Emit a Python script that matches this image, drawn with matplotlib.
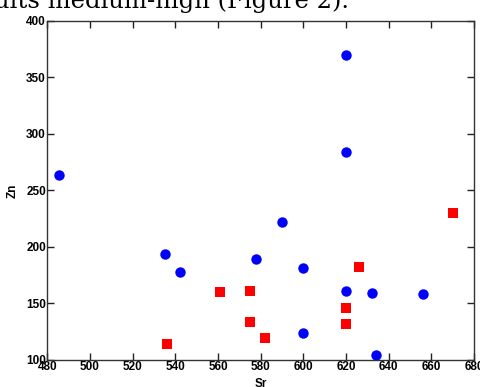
import matplotlib
matplotlib.use("Agg")
import matplotlib.pyplot as plt
from matplotlib import font_manager

# Sr / Zn values
blue_sr = [485.6, 535, 542, 578, 590, 600, 600, 620, 620, 620, 632, 656, 634]
blue_zn = [264, 194, 178, 189, 222, 181.5, 124, 370, 284, 161, 159, 158, 104]
red_sr = [536, 561, 575, 575, 582, 620, 620, 626, 670]
red_zn = [114, 160, 161, 134, 119, 146, 132, 182, 230]

xticks = list(range(480, 681, 20))
yticks = list(range(100, 401, 50))

names = {f.name for f in font_manager.fontManager.ttflist}
tick_font = "Liberation Sans Narrow" if "Liberation Sans Narrow" in names else "Liberation Sans"

fig = plt.figure(figsize=(4.81, 3.87), dpi=100)
ax = fig.add_axes([0.0983, 0.0698, 0.8871, 0.8767])

ax.plot(blue_sr, blue_zn, "o", color="#0000ff", markersize=7.5, markeredgewidth=0)
ax.plot(red_sr, red_zn, "s", color="#ff0000", markersize=7.5, markeredgewidth=0)

ax.set_xlim(480, 680)
ax.set_ylim(100, 400)
ax.set_xticks(xticks)
ax.set_yticks(yticks)
ax.tick_params(direction="in", top=True, right=True, length=5, width=1,
               pad=1, labelsize=8.5, colors="#222222", labelcolor="black")
for lab in ax.get_xticklabels() + ax.get_yticklabels():
    lab.set_fontfamily(tick_font)
    lab.set_fontweight("bold")
for s in ax.spines.values():
    s.set_color("#333333")
    s.set_linewidth(1)

ax.set_xlabel("Sr", fontsize=8.5, fontweight="bold", family=tick_font, labelpad=3)
ax.set_ylabel("Zn", fontsize=8.5, fontweight="bold", family=tick_font, labelpad=5)

# bit of the document caption that sits above the chart
fig.text(-0.012, 1 - 8 / 387, "ults medium-high (Figure 2).", fontsize=17.5,
         family="DejaVu Serif", va="baseline", ha="left")

fig.savefig("out.png", dpi=100)
